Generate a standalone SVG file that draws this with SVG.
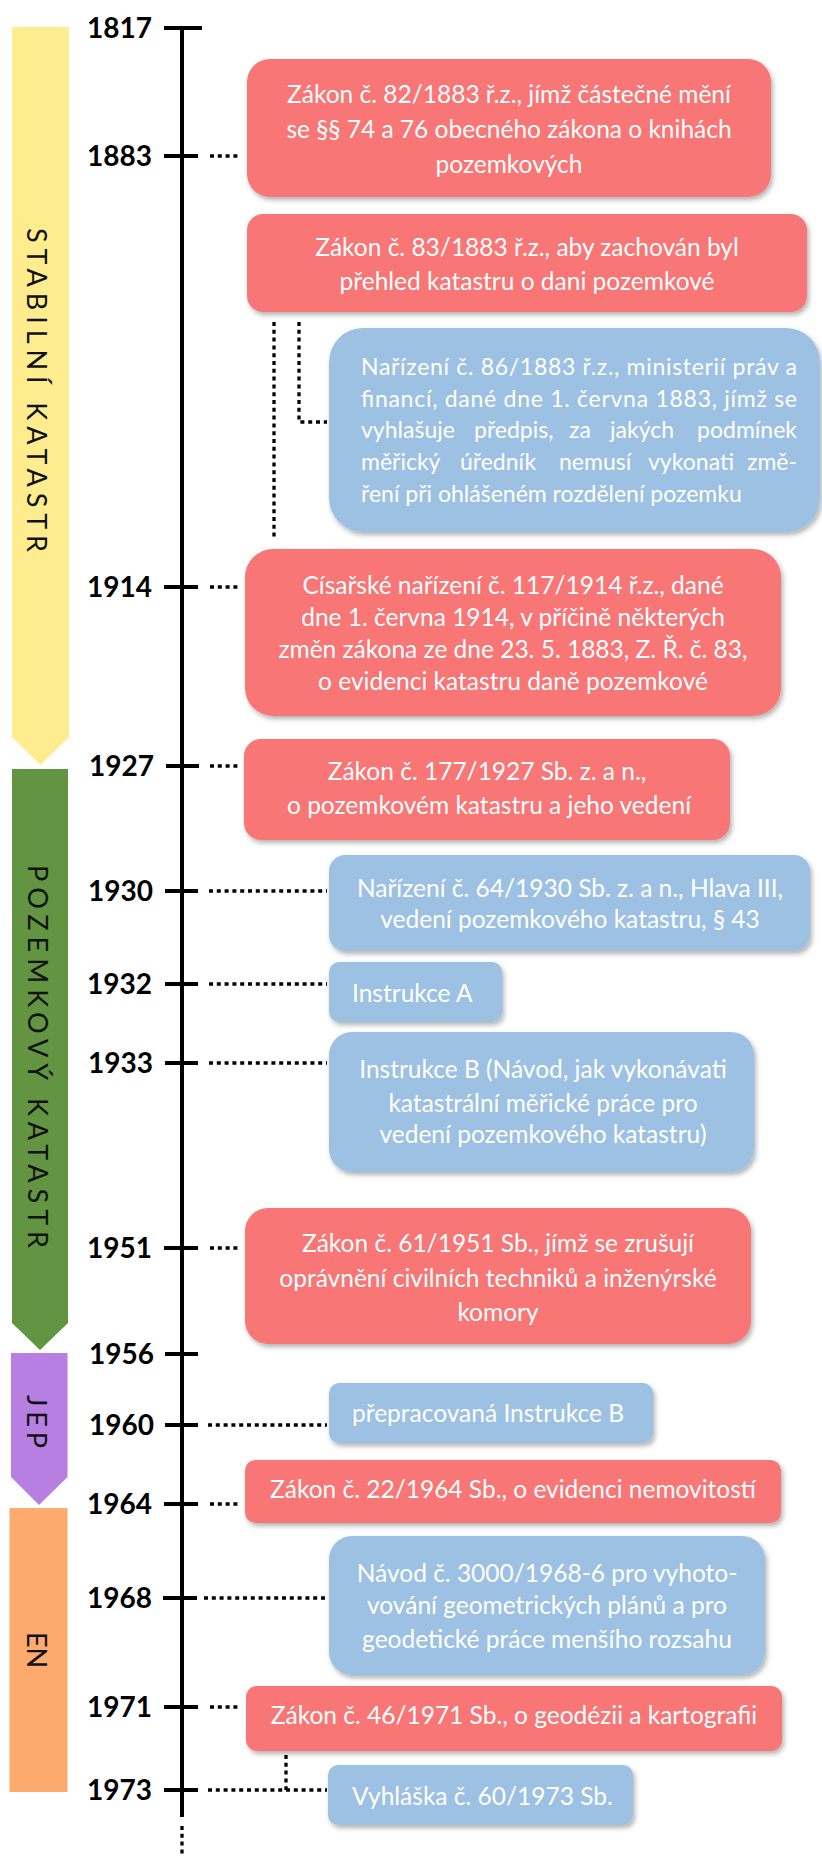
<svg xmlns="http://www.w3.org/2000/svg" width="822" height="1856" viewBox="0 0 822 1856">
  <defs>
    <filter id="shadow" x="-5%" y="-10%" width="115%" height="135%">
      <feDropShadow dx="2" dy="3" stdDeviation="2.5" flood-color="#000" flood-opacity="0.3"/>
    </filter>
    <style>
      .yr { font-family: Lato, "Liberation Sans", sans-serif; font-weight: 700; font-size: 28px; fill: #000; text-anchor: end; }
      .tx { font-family: Lato, "Liberation Sans", sans-serif; font-size: 24.5px; fill: #fff; }
      .sm { font-size: 23px; }
      .mid { text-anchor: middle; }
      .end { text-anchor: end; }
      .era { font-family: Lato, "Liberation Sans", sans-serif; font-weight: 400; font-size: 27px; fill: #111; }
      .red { fill: #F87675; filter: url(#shadow); }
      .blue { fill: #9DC1E3; filter: url(#shadow); }
      .axis { stroke: #000; stroke-width: 4; fill: none; }
      .tick { stroke: #000; stroke-width: 4; }
      .dot { stroke: #000; stroke-width: 3.3; stroke-dasharray: 4 3.8; fill: none; }
    </style>
  </defs>

  <rect width="822" height="1856" fill="#fff"/>

  <!-- era bands -->
  <g id="era-stabilni">
    <path d="M12,27 H69 V737 L40.5,765 L12,737 Z" fill="#FEEC8E"/>
    <text class="era" transform="translate(27,228) rotate(90)" textLength="324" lengthAdjust="spacing">STABILNÍ KATASTR</text>
  </g>
  <g id="era-pozemkovy">
    <path d="M12,769 H68 V1323 L40,1350 L12,1323 Z" fill="#629442"/>
    <text class="era" transform="translate(28,865) rotate(90)" textLength="383" lengthAdjust="spacing">POZEMKOVÝ KATASTR</text>
  </g>
  <g id="era-jep">
    <path d="M11,1353 H67.5 V1477 L39,1505 L11,1477 Z" fill="#B77FE2"/>
    <text class="era" transform="translate(27,1395) rotate(90)" textLength="53" lengthAdjust="spacing">JEP</text>
  </g>
  <g id="era-en">
    <rect x="9.5" y="1508" width="58" height="284" fill="#FDAA6E"/>
    <text class="era" transform="translate(27,1632) rotate(90)" textLength="36" lengthAdjust="spacing">EN</text>
  </g>

  <!-- timeline axis, ticks and dotted leaders -->
  <g id="connectors">
    <line class="axis" x1="182" y1="28" x2="182" y2="1817"/>
    <line class="dot" x1="182" y1="1826" x2="182" y2="1856"/>
    <line class="tick" x1="164" y1="28" x2="202" y2="28"/>
    <line class="tick" x1="164" y1="156" x2="198" y2="156"/>
    <line class="tick" x1="164" y1="587" x2="198" y2="587"/>
    <line class="tick" x1="166" y1="766" x2="199" y2="766"/>
    <line class="tick" x1="165" y1="891" x2="198" y2="891"/>
    <line class="tick" x1="165" y1="984" x2="198" y2="984"/>
    <line class="tick" x1="165" y1="1063" x2="198" y2="1063"/>
    <line class="tick" x1="164" y1="1248" x2="198" y2="1248"/>
    <line class="tick" x1="165" y1="1354" x2="198" y2="1354"/>
    <line class="tick" x1="165" y1="1425" x2="198" y2="1425"/>
    <line class="tick" x1="164" y1="1504" x2="198" y2="1504"/>
    <line class="tick" x1="163" y1="1598" x2="197" y2="1598"/>
    <line class="tick" x1="164" y1="1707" x2="198" y2="1707"/>
    <line class="tick" x1="164" y1="1790" x2="198" y2="1790"/>

    <line class="dot" x1="210" y1="156" x2="238" y2="156"/>
    <line class="dot" x1="210" y1="587" x2="238" y2="587"/>
    <line class="dot" x1="210" y1="766" x2="238" y2="766"/>
    <line class="dot" x1="209" y1="891" x2="327" y2="891"/>
    <line class="dot" x1="209" y1="984" x2="327" y2="984"/>
    <line class="dot" x1="209" y1="1063" x2="327" y2="1063"/>
    <line class="dot" x1="210" y1="1248" x2="238" y2="1248"/>
    <line class="dot" x1="208" y1="1425" x2="327" y2="1425"/>
    <line class="dot" x1="210" y1="1504" x2="238" y2="1504"/>
    <line class="dot" x1="204" y1="1598" x2="327" y2="1598"/>
    <line class="dot" x1="210" y1="1707" x2="238" y2="1707"/>
    <line class="dot" x1="208" y1="1790" x2="327" y2="1790"/>

    <line class="dot" x1="274" y1="322" x2="274" y2="540"/>
    <polyline class="dot" points="299,322 299,422 327,422"/>
    <line class="dot" x1="286" y1="1755" x2="286" y2="1790"/>
  </g>

  <!-- year labels -->
  <g id="years">
    <text class="yr" x="152" y="38">1817</text>
    <text class="yr" x="152" y="166">1883</text>
    <text class="yr" x="152" y="597">1914</text>
    <text class="yr" x="154" y="776">1927</text>
    <text class="yr" x="153" y="901">1930</text>
    <text class="yr" x="152" y="994">1932</text>
    <text class="yr" x="153" y="1073">1933</text>
    <text class="yr" x="152" y="1258">1951</text>
    <text class="yr" x="154" y="1364">1956</text>
    <text class="yr" x="154" y="1435">1960</text>
    <text class="yr" x="152" y="1514">1964</text>
    <text class="yr" x="152" y="1608">1968</text>
    <text class="yr" x="152" y="1717">1971</text>
    <text class="yr" x="152" y="1800">1973</text>
  </g>

  <!-- event boxes -->
  <g id="n1883a">
    <rect class="red" x="247" y="59" width="524" height="138" rx="23"/>
    <text class="tx mid" x="509" y="103">Zákon č. 82/1883 ř.z., jímž částečné mění</text>
    <text class="tx mid" x="509" y="138">se §§ 74 a 76 obecného zákona o knihách</text>
    <text class="tx mid" x="509" y="173">pozemkových</text>
  </g>
  <g id="n1883b">
    <rect class="red" x="247" y="214" width="560" height="98" rx="16"/>
    <text class="tx mid" x="527" y="256">Zákon č. 83/1883 ř.z., aby zachován byl</text>
    <text class="tx mid" x="527" y="290">přehled katastru o dani pozemkové</text>
  </g>
  <g id="n1883c">
    <rect class="blue" x="329" y="328" width="491" height="204" rx="34"/>
    <!-- justified paragraph: full lines stretched to the column width -->
    <text class="tx sm" x="361" y="375" textLength="436" lengthAdjust="spacing">Nařízení č. 86/1883 ř.z., ministerií práv a</text>
    <text class="tx sm" x="361" y="407" textLength="436" lengthAdjust="spacing">financí, dané dne 1. června 1883, jímž se</text>
    <text class="tx sm" y="438"><tspan x="361">vyhlašuje</tspan><tspan x="474">předpis,</tspan><tspan x="569">za</tspan><tspan x="610">jakých</tspan></text>
    <text class="tx sm end" x="797" y="438">podmínek</text>
    <text class="tx sm" y="470"><tspan x="361">měřický</tspan><tspan x="460">úředník</tspan><tspan x="559">nemusí</tspan><tspan x="648">vykonati</tspan></text>
    <text class="tx sm end" x="797" y="470">změ-</text>
    <text class="tx sm" x="361" y="502">ření při ohlášeném rozdělení pozemku</text>
  </g>
  <g id="n1914">
    <rect class="red" x="245" y="549" width="536" height="167" rx="28"/>
    <text class="tx mid" x="513" y="594">Císařské nařízení č. 117/1914 ř.z., dané</text>
    <text class="tx mid" x="513" y="626">dne 1. června 1914, v příčině některých</text>
    <text class="tx mid" x="513" y="658">změn zákona ze dne 23. 5. 1883, Z. Ř. č. 83,</text>
    <text class="tx mid" x="513" y="690">o evidenci katastru daně pozemkové</text>
  </g>
  <g id="n1927">
    <rect class="red" x="244" y="739" width="486" height="101" rx="17"/>
    <text class="tx mid" x="487" y="780">Zákon č. 177/1927 Sb. z. a n.,</text>
    <text class="tx mid" x="489" y="814">o pozemkovém katastru a jeho vedení</text>
  </g>
  <g id="n1930">
    <rect class="blue" x="329" y="855" width="481" height="96" rx="16"/>
    <text class="tx mid" x="570" y="897">Nařízení č. 64/1930 Sb. z. a n., Hlava III,</text>
    <text class="tx mid" x="570" y="928">vedení pozemkového katastru, § 43</text>
  </g>
  <g id="n1932">
    <rect class="blue" x="329" y="962" width="173" height="60" rx="10"/>
    <text class="tx" x="352" y="1002">Instrukce A</text>
  </g>
  <g id="n1933">
    <rect class="blue" x="329" y="1032" width="425" height="140" rx="23"/>
    <text class="tx mid" x="543" y="1078">Instrukce B (Návod, jak vykonávati</text>
    <text class="tx mid" x="543" y="1112">katastrální měřické práce pro</text>
    <text class="tx mid" x="543" y="1143">vedení pozemkového katastru)</text>
  </g>
  <g id="n1951">
    <rect class="red" x="245" y="1208" width="506" height="136" rx="23"/>
    <text class="tx mid" x="498" y="1252">Zákon č. 61/1951 Sb., jímž se zrušují</text>
    <text class="tx mid" x="498" y="1287">oprávnění civilních techniků a inženýrské</text>
    <text class="tx mid" x="498" y="1321">komory</text>
  </g>
  <g id="n1960">
    <rect class="blue" x="329" y="1383" width="324" height="60" rx="10"/>
    <text class="tx" x="352" y="1422">přepracovaná Instrukce B</text>
  </g>
  <g id="n1964">
    <rect class="red" x="245" y="1460" width="536" height="63" rx="10.5"/>
    <text class="tx mid" x="513" y="1498">Zákon č. 22/1964 Sb., o evidenci nemovitostí</text>
  </g>
  <g id="n1968">
    <rect class="blue" x="329" y="1536" width="436" height="139" rx="23"/>
    <text class="tx mid" x="547" y="1582">Návod č. 3000/1968-6 pro vyhoto-</text>
    <text class="tx mid" x="547" y="1614">vování geometrických plánů a pro</text>
    <text class="tx mid" x="547" y="1648">geodetické práce menšího rozsahu</text>
  </g>
  <g id="n1971">
    <rect class="red" x="246" y="1686" width="536" height="65" rx="11"/>
    <text class="tx mid" x="514" y="1724">Zákon č. 46/1971 Sb., o geodézii a kartografii</text>
  </g>
  <g id="n1973">
    <rect class="blue" x="328" y="1765" width="305" height="60" rx="10"/>
    <text class="tx" x="352" y="1805">Vyhláška č. 60/1973 Sb.</text>
  </g>
</svg>
